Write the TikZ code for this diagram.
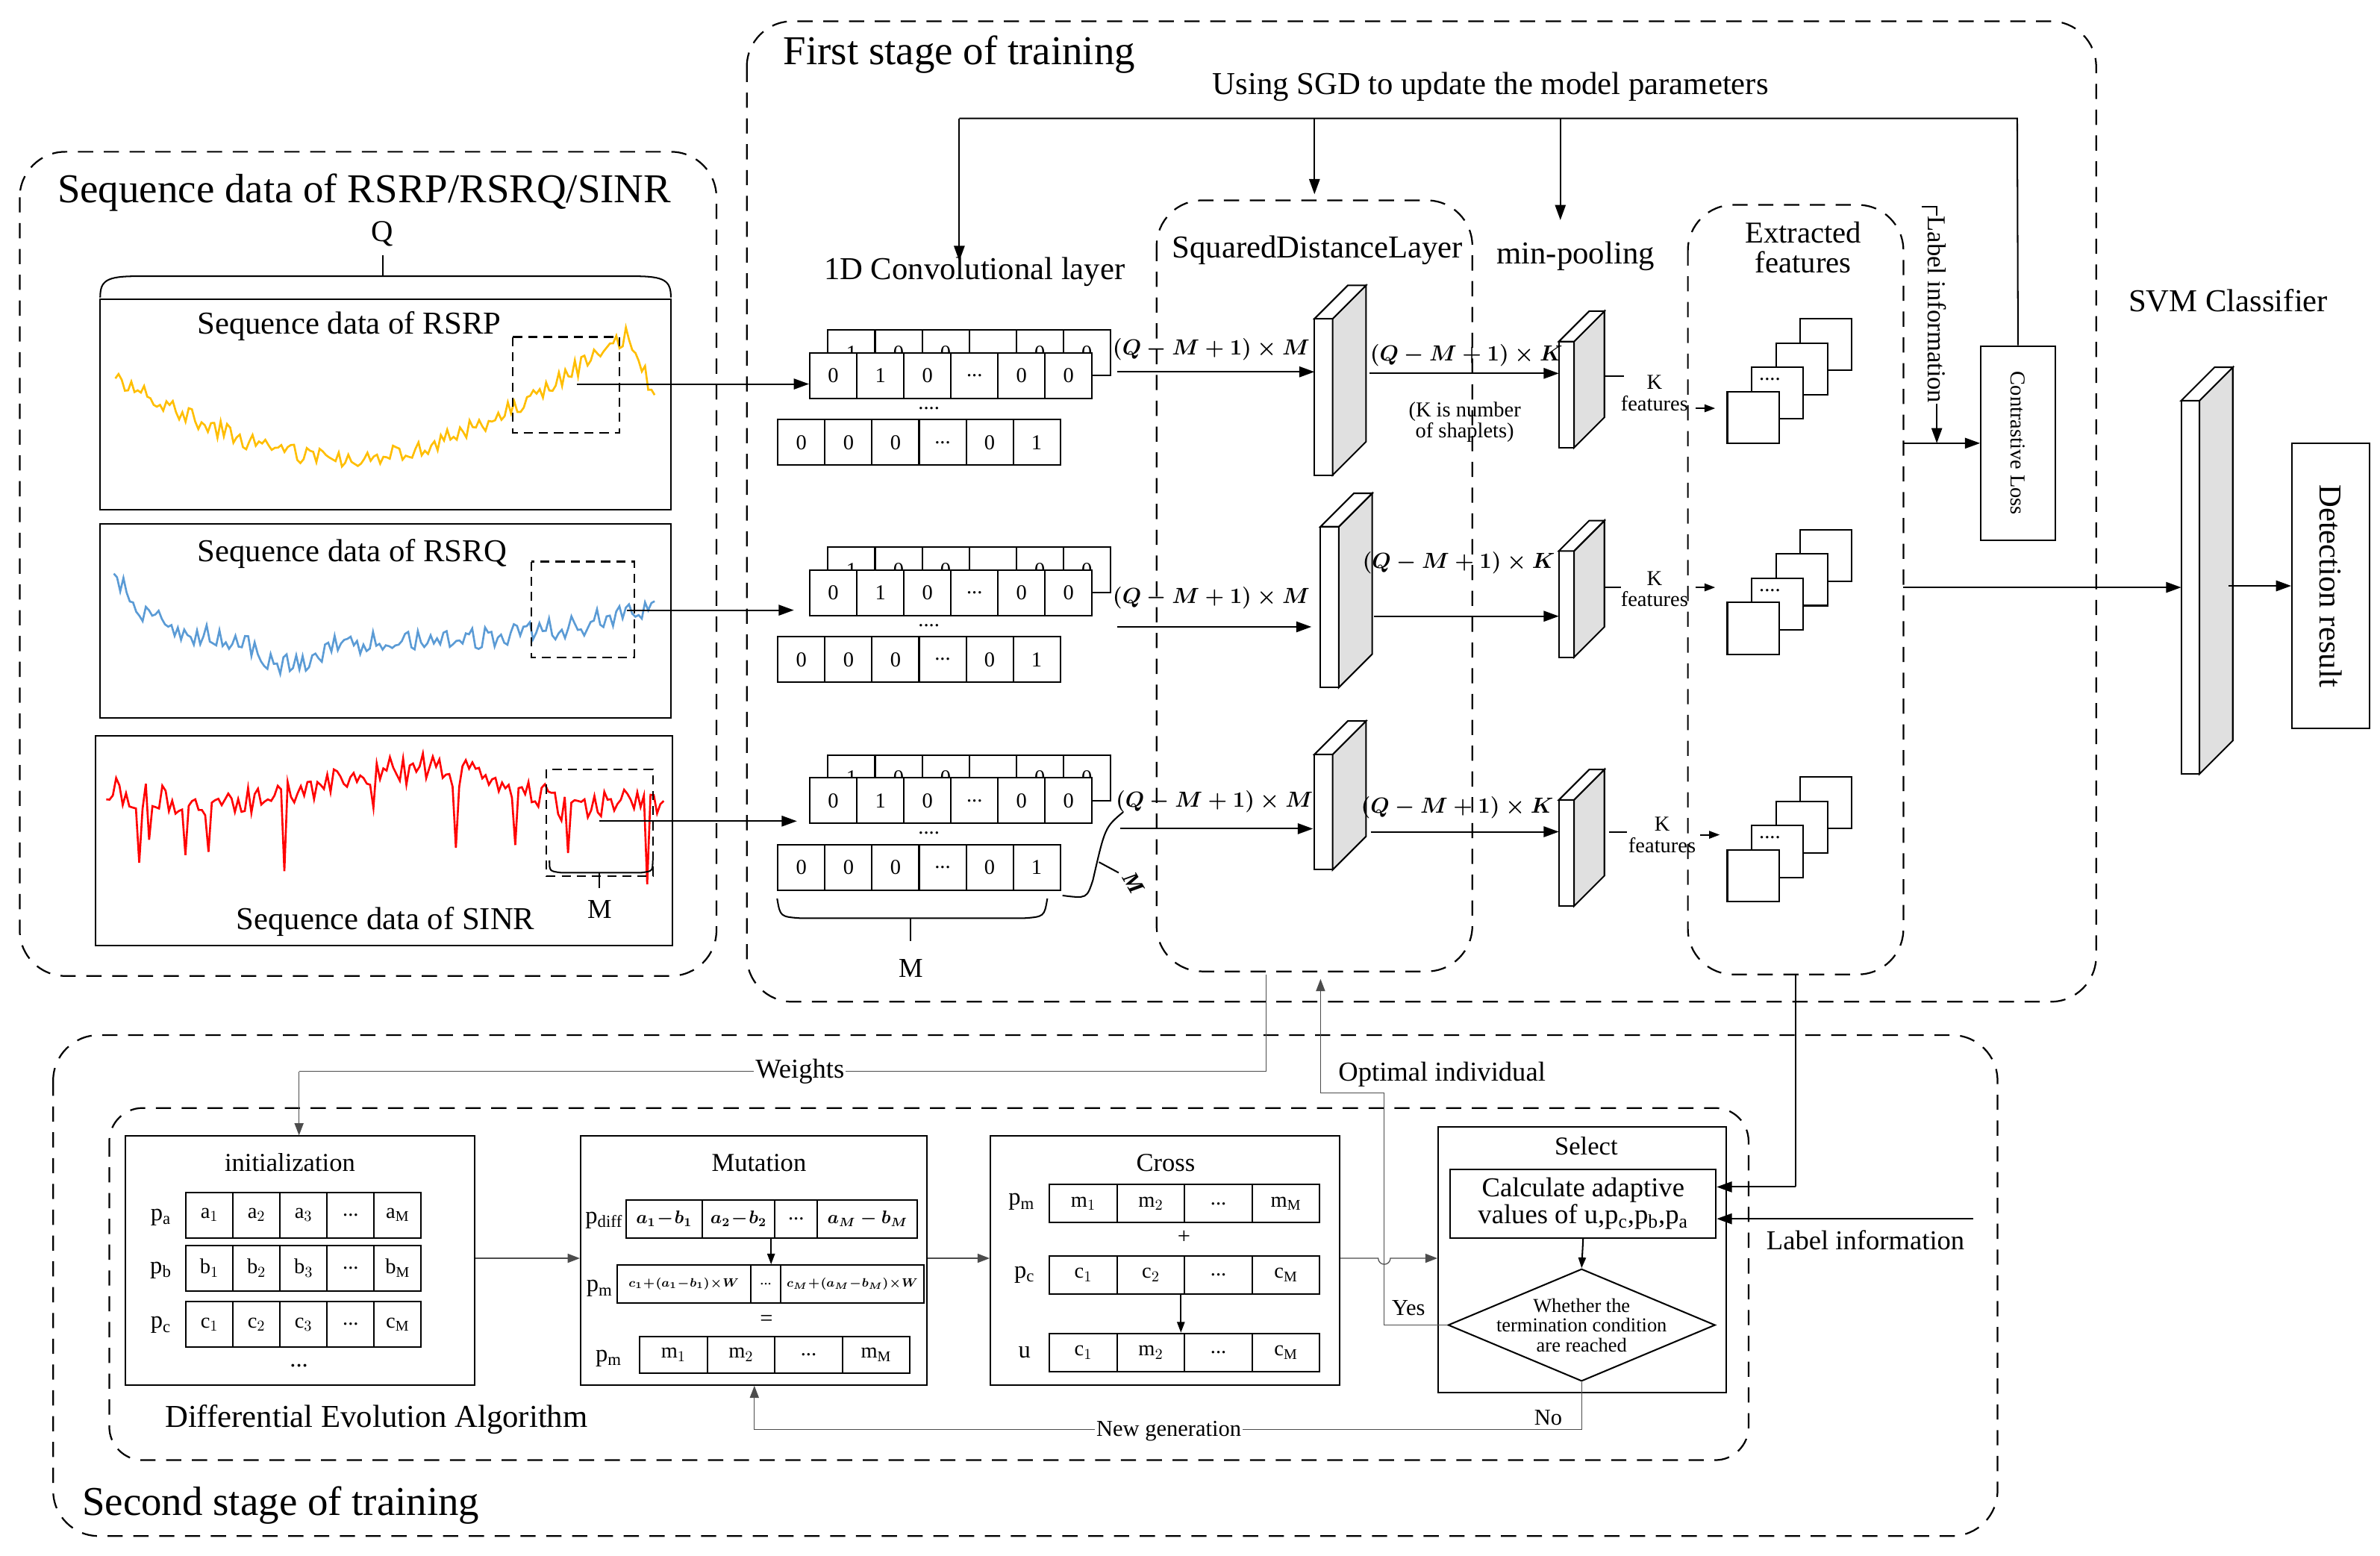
\documentclass[tikz,border=0pt]{standalone}
\usepackage{fontspec}
\setmainfont{Liberation Serif}
\usetikzlibrary{arrows.meta,shapes.geometric,calc}
\newcommand\fs[1]{\fontsize{#1}{#1}\selectfont}
\newcommand\dd{...}
\tikzset{
 dsh/.style={draw,line width=1.1pt,dash pattern=on 10pt off 7pt,rounded corners=30pt},
 ln/.style={line width=1pt},
 arr/.style={line width=1pt,-{Triangle[length=10pt,width=7pt]}},
 garr/.style={line width=0.6pt,draw=black!70,-{Triangle[length=8pt,width=6pt]}},
 cell/.style={draw,line width=1pt,inner sep=0pt,fill=white,font=\fs{14}},
 lab/.style={inner sep=0pt,font=\fs{17}},
 big/.style={inner sep=0pt,font=\fs{27}},
 mlab/.style={inner sep=0pt,font=\fs{14.4}\boldmath},
}
% name, x, ytop, cellwidth, height, entries
\newcommand\crow[6]{\foreach \ct [count=\ci from 0] in {#6}{\pgfmathsetmacro\cx{#2+\ci*#4}\pgfmathsetmacro\cy{#3}\node[cell,minimum width=#4pt,minimum height=#5pt,anchor=north west] (#1-\ci) at (\cx,\cy) {\ct};}}
% name, x, ytop, ybot, w, d
\newcommand\slab[6]{%
 \draw[ln,fill=white] (#2,#3+#6) rectangle (#2+#5,#4);
 \draw[ln,fill=black!12] (#2+#5,#3+#6) -- (#2+#5+#6,#3) -- (#2+#5+#6,#4-#6) -- (#2+#5,#4) -- cycle;
 \draw[ln,fill=white] (#2,#3+#6) -- (#2+#6,#3) -- (#2+#5+#6,#3) -- (#2+#5,#3+#6) -- cycle;
 \coordinate (#1) at (#2+#5/2+#6/2,{(#3+#4)/2});}
% name,x,y (front square top-left)
\newcommand\stk[3]{\foreach \k in {3,2,1,0}{\draw[ln,fill=white] (#2+16*\k,#3-16*\k) rectangle ++(34,34);}
 \node[font=\fs{14},inner sep=0pt] (#1) at (#2+28,#3-8) {....};}
\newcommand\convgrp[3]{% name, x of front row, y top of front row
 \crow{#1b}{#2+12}{#3-15}{31}{30}{1,0,0,{},0,0}
 \crow{#1f}{#2}{#3}{31}{30}{0,1,0,\dd,0,0}
 \node[font=\fs{14},inner sep=0pt] (#1d) at (#2+79,#3+37) {....};
 \crow{#1z}{#2-21}{#3+44}{31}{30}{0,0,0,\dd,0,1}}
\begin{document}
\begin{tikzpicture}[x=1pt,y=-1pt]
\useasboundingbox (0,0) rectangle (1568,1025);
\pgfmathsetseed{7}
% big frames
\draw[dsh] (13,100) rectangle (472,643);
\draw[dsh] (492,14) rectangle (1381,660);
\draw[dsh] (35,682) rectangle (1316,1012);
\draw[dsh,rounded corners=22pt] (72,730) rectangle (1152,962);
\draw[dsh] (762,132) rectangle (970,640);
\draw[dsh] (1112,135) rectangle (1254,642);
\node[big] (tSeq) at (240,127) {Sequence data of RSRP/RSRQ/SINR};
\node[big] (tFirst) at (632,36) {First stage of training};
\node[big] (tSecond) at (185,992) {Second stage of training};
% sequences
\draw[ln] (66,197) rectangle (442,336);
\draw[ln] (66,345) rectangle (442,473);
\draw[ln] (63,485) rectangle (443,623);
\node[lab,font=\fs{21}] (tRSRP) at (230,215) {Sequence data of RSRP};
\node[lab,font=\fs{21}] (tRSRQ) at (232,365) {Sequence data of RSRQ};
\node[lab,font=\fs{21}] (tSINR) at (254,607) {Sequence data of SINR};
\draw[line width=1.3pt,color={rgb,255:red,255;green,190;blue,0}] plot[domain=0:1,samples=170] ({76+356*\x},{248+62*sin(200*\x)-18*\x+(\x>0.95?55*(\x-0.95)/0.05:0)+6*rand});
\draw[line width=1.3pt,color={rgb,255:red,91;green,155;blue,213}] plot[domain=0:1,samples=170] ({75+357*\x},{425-45*exp(-12*\x)+15*exp(-((\x-0.32)/0.06)^2)-25*\x^4+8*rand});
\draw[line width=1.3pt,red] plot[domain=0:1,samples=170] ({70+368*\x},{518+12*sin(500*\x)+10*rand+(rnd>0.9?50*rnd:0)});
\draw[ln] (66,196) .. controls (66,185) and (70,182) .. (90,182) -- (418,182) .. controls (438,182) and (442,185) .. (442,196);
\draw[ln] (252,182) -- (252,168);
\node[lab,font=\fs{20}] (tQ) at (252,154) {Q};
\draw[ln,dash pattern=on 6pt off 4pt] (338,222) rectangle (408,285);
\draw[ln,dash pattern=on 6pt off 4pt] (350,370) rectangle (418,433);
\draw[ln,dash pattern=on 6pt off 4pt] (360,507) rectangle (430,577);
\draw[ln] (362,567) .. controls (362,574) .. (370,575) -- (422,575) .. controls (430,574) .. (430,567);
\draw[ln] (395,575) -- (395,585);
\node[lab,font=\fs{18}] (tM1) at (395,599) {M};
% conv
\node[lab,font=\fs{21}] (tConv) at (642,179) {1D Convolutional layer};
\convgrp{gA}{533}{232}
\convgrp{gB}{533}{375}
\convgrp{gC}{533}{512}
\coordinate (sA) at (380,253); \coordinate (sB) at (413,402); \coordinate (sC) at (395,541);
\draw[arr] (sA) -- (gAf-0.west|-sA);
\draw[arr] (sB) -- ([xshift=-10pt]gBf-0.west|-sB);
\draw[arr] (sC) -- ([xshift=-8pt]gCf-0.west|-sC);
\draw[ln] (512,592) .. controls (514,604) .. (528,605) -- (674,605) .. controls (688,604) .. (690,592);
\draw[ln] (600,605) -- (600,620);
\node[lab,font=\fs{18}] (tM2) at (600,638) {M};
\draw[ln] (740,535) .. controls (728,545) .. (720,580) .. controls (716,592) .. (700,590);
\draw[ln] (724,568) -- (737,575);
\node[lab,rotate=-60,font=\fs{15}\itshape\bfseries] (tM3) at (747,582) {M};
% squared distance
\node[lab,font=\fs{21}] (tSq) at (868,165) {SquaredDistanceLayer};
\node[lab,font=\fs{21}] (tMin) at (1038,169) {min-pooling};
\slab{qA}{866}{188}{313}{12}{22}
\slab{qB}{870}{325}{453}{12}{22}
\slab{qC}{866}{475}{573}{12}{22}
\coordinate (cA) at (736,245); \coordinate (cB) at (736,413); \coordinate (cC) at (738,546);
\draw[arr] (cA) -- (866,245);
\draw[arr] (cB) -- (864,413);
\draw[arr] (cC) -- (865,546);
\node[mlab] (mA) at (798,230) {$(Q-M+1)\times M$};
\node[mlab] (mB) at (798,394) {$(Q-M+1)\times M$};
\node[mlab] (mC) at (800,528) {$(Q-M+1)\times M$};
\slab{pA}{1027}{205}{295}{10}{20}
\slab{pB}{1027}{343}{433}{10}{20}
\slab{pC}{1027}{507}{597}{10}{20}
\draw[arr] (902,246) -- (1027,246);
\draw[arr] (905,406) -- (1027,406);
\draw[arr] (903,548) -- (1027,548);
\node[mlab] (kA) at (966,234) {$(Q-M+1)\times K$};
\node[mlab] (kB) at (961,371) {$(Q-M+1)\times K$};
\node[mlab] (kC) at (960,532) {$(Q-M+1)\times K$};
\node[lab,font=\fs{14},align=center] (kn) at (965,278) {(K is number\\of shaplets)};
% features
\node[lab,font=\fs{14},align=center] (fA) at (1090,259) {K\\features};
\node[lab,font=\fs{14},align=center] (fB) at (1090,388) {K\\features};
\node[lab,font=\fs{14},align=center] (fC) at (1095,550) {K\\features};
\draw[ln] (1057,248) -- (1070,248);
\draw[ln] (1057,387) -- (1068,387);
\draw[ln] (1060,548) -- (1072,548);
\draw[arr,-{Triangle[length=7pt,width=5pt]}] (1117,269) -- (1130,269);
\draw[arr,-{Triangle[length=7pt,width=5pt]}] (1117,387) -- (1130,387);
\draw[arr,-{Triangle[length=7pt,width=5pt]}] (1120,550) -- (1133,550);
\node[lab,font=\fs{20},align=center] (tExt) at (1188,163) {Extracted\\features};
\stk{xA}{1138}{258}
\stk{xB}{1138}{397}
\stk{xC}{1138}{560}
% loss
\node[draw,ln,minimum width=49pt,minimum height=128pt,inner sep=0pt] (loss) at (1329.5,292) {};
\node[lab,font=\fs{14},rotate=-90] (lossT) at (loss) {Contrastive Loss};
\node[lab,font=\fs{17},rotate=-90] (lblI) at (1276,204) {Label information};
\coordinate (lt) at (1266,136);
\draw[ln] (lt) -- (1276,136) -- (lblI.west);
\draw[arr] (lblI.east) -- (1276,292);
\draw[arr] (1254,292) -- (loss.west);
\coordinate (tp1) at (1329,78); \coordinate (tp2) at (632,78);
\draw[ln] (loss.north) -- (tp1) -- (tp2);
\draw[arr] (tp2) -- (632,172);
\draw[arr] (866,78) -- (866,128);
\draw[arr] (1028,78) -- (1028,145);
\node[lab,font=\fs{21}] (tSGD) at (982,57) {Using SGD to update the model parameters};
% SVM
\node[lab,font=\fs{21}] (tSVM) at (1468,198) {SVM Classifier};
\slab{svm}{1437}{242}{510}{12}{22}
\draw[arr] (1254,387) -- (1437,387);
\node[draw,ln,minimum width=51pt,minimum height=188pt,inner sep=0pt] (det) at (1535.5,386) {};
\node[lab,font=\fs{21},rotate=-90] (detT) at (det) {Detection result};
\draw[arr] (1468,386) -- (det.west);
% DE boxes
\node[draw,ln,minimum width=230pt,minimum height=164pt,inner sep=0pt,anchor=north west] (init) at (82,748) {};
\node[draw,ln,minimum width=228pt,minimum height=164pt,inner sep=0pt,anchor=north west] (mut) at (382,748) {};
\node[draw,ln,minimum width=230pt,minimum height=164pt,inner sep=0pt,anchor=north west] (cross) at (652,748) {};
\node[draw,ln,minimum width=190pt,minimum height=175pt,inner sep=0pt,anchor=north west] (sel) at (947,742) {};
\node[lab,font=\fs{17}] (tInit) at (191,766) {initialization};
\node[lab,font=\fs{17}] (tMut) at (500,766) {Mutation};
\node[lab,font=\fs{17}] (tCross) at (768,766) {Cross};
\node[lab,font=\fs{17}] (tSel) at (1045,755) {Select};
\crow{ra}{122}{785}{31}{30}{a$_1$,a$_2$,a$_3$,\dd,a$_{\mathrm M}$}
\crow{rb}{122}{820}{31}{30}{b$_1$,b$_2$,b$_3$,\dd,b$_{\mathrm M}$}
\crow{rc}{122}{857}{31}{30}{c$_1$,c$_2$,c$_3$,\dd,c$_{\mathrm M}$}
\node[lab,font=\fs{16}] (la) at (106,802) {p$_{\mathrm a}$};
\node[lab,font=\fs{16}] (lb) at (106,837) {p$_{\mathrm b}$};
\node[lab,font=\fs{16}] (lc) at (106,873) {p$_{\mathrm c}$};
\node[lab,font=\fs{16}] (idots) at (197,900) {...};
% mutation rows
\node[cell,minimum width=50pt,minimum height=25pt,anchor=north west,font=\fs{12}\boldmath] (d1) at (412,790) {$a_1\!-\!b_1$};
\node[cell,minimum width=48pt,minimum height=25pt,anchor=north west,font=\fs{12}\boldmath] (d2) at (462,790) {$a_2\!-\!b_2$};
\node[cell,minimum width=28pt,minimum height=25pt,anchor=north west,font=\fs{14}] (d3) at (510,790) {...};
\node[cell,minimum width=66pt,minimum height=25pt,anchor=north west,font=\fs{12}\boldmath] (d4) at (538,790) {$a_M-b_M$};
\node[cell,minimum width=88pt,minimum height=25pt,anchor=north west,font=\fs{8}\boldmath] (w1) at (406,833) {$c_1\!+\!(a_1\!-\!b_1)\!\times\! W$};
\node[cell,minimum width=20pt,minimum height=25pt,anchor=north west,font=\fs{10}] (w2) at (494,833) {...};
\node[cell,minimum width=94pt,minimum height=25pt,anchor=north west,font=\fs{8}\boldmath] (w3) at (514,833) {$c_M\!+\!(a_M\!-\!b_M)\!\times\! W$};
\crow{mm}{421}{880}{44.5}{24}{m$_1$,m$_2$,\dd,m$_{\mathrm M}$}
\node[lab,font=\fs{16}] (ld) at (398,804) {p$_{\mathrm{diff}}$};
\node[lab,font=\fs{16}] (lm1) at (395,849) {p$_{\mathrm m}$};
\node[lab,font=\fs{16}] (lm2) at (401,895) {p$_{\mathrm m}$};
\node[lab,font=\fs{15}] (eq) at (505,870) {=};
\draw[arr,-{Triangle[length=7pt,width=5pt]}] (508,815) -- (508,833);
% cross rows
\crow{cm}{691}{780}{44.5}{25}{m$_1$,m$_2$,\dd,m$_{\mathrm M}$}
\crow{cc}{691}{827}{44.5}{25}{c$_1$,c$_2$,\dd,c$_{\mathrm M}$}
\crow{cu}{691}{878}{44.5}{25}{c$_1$,m$_2$,\dd,c$_{\mathrm M}$}
\node[lab,font=\fs{16}] (lcm) at (673,792) {p$_{\mathrm m}$};
\node[lab,font=\fs{16}] (lcc) at (675,840) {p$_{\mathrm c}$};
\node[lab,font=\fs{16}] (lcu) at (675,891) {u};
\node[lab,font=\fs{15}] (plus) at (780,815) {+};
\draw[arr,-{Triangle[length=7pt,width=5pt]}] (778,852) -- (778,878);
% select
\node[draw,ln,minimum width=175pt,minimum height=45pt,inner sep=0pt,anchor=north west,align=center,font=\fs{18}] (calc) at (955,770) {Calculate adaptive\\values of u,p$_{\mathrm c}$,p$_{\mathrm b}$,p$_{\mathrm a}$};
\node[draw,ln,diamond,aspect=2.4,minimum width=176pt,minimum height=74pt,inner sep=0pt] (dia) at (1042,873) {};
\node[lab,font=\fs{13},align=center] (diaT) at (1042,873) {Whether the\\termination condition\\are reached};
\draw[arr,-{Triangle[length=7pt,width=5pt]}] (calc.south) -- (dia.north);
% DE connectors
\draw[garr] (init.east|-0,829) -- (mut.west|-0,829);
\draw[garr] (mut.east|-0,829) -- (cross.west|-0,829);
\draw[garr] (cross.east|-0,829) -- (908,829) arc (180:0:4) -- (sel.west|-0,829);
\coordinate (ng1) at (1042,942); \coordinate (ng2) at (497,942);
\draw[line width=0.6pt,draw=black!70] (dia.south) -- (ng1) -- (ng2);
\draw[garr] (ng2) -- (mut.south-|ng2);
\node[lab,font=\fs{15},fill=white,inner sep=1pt] (tNew) at (770,943) {New generation};
\node[lab,font=\fs{15}] (tNo) at (1020,934) {No};
\node[lab,font=\fs{15}] (tYes) at (928,862) {Yes};
\coordinate (y1) at (912,873); \coordinate (y2) at (912,720); \coordinate (y3) at (870,720);
\draw[line width=0.6pt,draw=black!70] (dia.west) -- (y1) -- (y2) -- (y3);
\draw[garr] (y3) -- (870,645);
\node[lab,font=\fs{18}] (tOpt) at (950,708) {Optimal individual};
\coordinate (w1) at (834,642); \coordinate (w2) at (834,706); \coordinate (w3) at (197,706);
\draw[line width=0.6pt,draw=black!70] (w1) -- (w2) -- (w3);
\draw[garr] (w3) -- (init.north-|w3);
\node[lab,font=\fs{18},fill=white,inner sep=1pt] (tW) at (527,706) {Weights};
\coordinate (e1) at (1183,642); \coordinate (e2) at (1183,782);
\draw[ln] (e1) -- (e2);
\draw[arr] (e2) -- (calc.east|-e2);
\coordinate (l1) at (1300,803);
\draw[arr] (l1) -- (calc.east|-l1);
\node[lab,font=\fs{18}] (tLab) at (1229,817) {Label information};
\node[lab,font=\fs{21}] (tDE) at (248,935) {Differential Evolution Algorithm};
\end{tikzpicture}
\end{document}
